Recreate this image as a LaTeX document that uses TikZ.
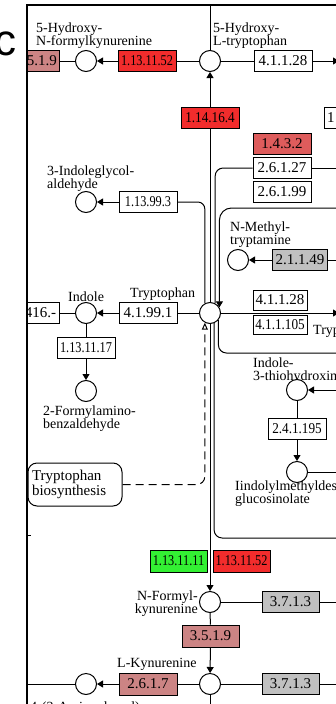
\documentclass[tikz,border=0pt]{standalone}
\usepackage{fontspec}
\setmainfont{Liberation Serif}
\newfontfamily\labfont{Liberation Sans}
\usepackage{graphicx}
\usetikzlibrary{arrows.meta,calc}
\definecolor{kred}{RGB}{242,44,44}
\definecolor{kredb}{RGB}{222,92,92}
\definecolor{kpink}{RGB}{204,132,132}
\definecolor{kgray}{RGB}{192,192,192}
\definecolor{kgreen}{RGB}{51,240,51}
\newcommand{\nar}[1]{\scalebox{0.82}[1]{#1}}
\newcommand{\narb}[1]{\scalebox{0.88}[1]{#1}}
\begin{document}
\begin{tikzpicture}[x=1pt,y=-1pt,
  cpd/.style={circle, draw, fill=white, minimum size=21pt, inner sep=0pt, line width=1pt},
  enz/.style={draw, minimum width=58pt, minimum height=21pt, inner sep=0pt, line width=1pt, font=\fontsize{15}{15}\selectfont},
  lbl/.style={inner sep=0pt, align=left, font=\fontsize{14}{13}\selectfont},
  con/.style={line width=1pt},
  arr/.style={con, -{Triangle[length=6pt,width=7pt]}},
  oarr/.style={line width=1pt, dash pattern=on 8pt off 5pt, -{Triangle[open,length=7pt,width=6pt]}},
  frame/.style={line width=1.6pt}]
\useasboundingbox (0,0) rectangle (336,704);
\node[anchor=base west, inner sep=0pt, font=\labfont\fontsize{44}{44}\selectfont] (panel) at (-5.8,55) {c};
\begin{scope}
\clip (27,5) rectangle (336,704);
% labels
\node[lbl, anchor=north west] (l1) at (36,23) {5-Hydroxy-\\N-formylkynurenine};
\node[lbl, anchor=north west] (l2) at (213,23) {5-Hydroxy-\\L-tryptophan};
\node[lbl, anchor=north west] (l3) at (47,166) {3-Indoleglycol-\\aldehyde};
\node[lbl, anchor=north west] (l4) at (230,222) {N-Methyl-\\tryptamine};
\node[lbl, anchor=north west] (l5) at (68,292) {Indole};
\node[lbl, anchor=north west] (l6) at (130,288) {Tryptophan};
\node[lbl, anchor=north west] (l7) at (43,406) {2-Formylamino-\\benzaldehyde};
\node[lbl, anchor=north west] (l8) at (253,358) {Indole-\\3-thiohydroximate};
\node[lbl, anchor=north west] (l9) at (235,480) {Iindolylmethyldesulfo-\\glucosinolate};
\node[lbl, anchor=north east, align=right] (l10) at (198,591) {N-Formyl-\\kynurenine};
\node[lbl, anchor=north west] (l11) at (117,658) {L-Kynurenine};
\node[lbl, anchor=north west] (l12) at (313,325) {Tryptamine};
\node[lbl, anchor=north west] (l13) at (30,702) {4-(2-Aminophenyl)-};
% top row
\node[enz, fill=kpink, text width=54pt, align=right] (e0) at (30,61) {3.5.1.9};
\node[cpd] (c1) at (86,61) {};
\node[enz, fill=kred] (e1) at (147,61) {\nar{1.13.11.52}};
\node[cpd] (c2) at (210,61) {};
\node[enz] (e2) at (283,61) {4.1.1.28};
\coordinate (r1) at (339,61);
\coordinate (top1) at (210,5);
\node[enz, fill=kred] (e3) at (210,118) {\narb{1.14.16.4}};
\node[enz, text width=24pt, align=left, minimum width=30pt] (e3b) at (339,118) {1};
\node[enz, fill=kredb] (e4) at (282,144) {1.4.3.2};
\node[enz] (e5) at (282,168) {2.6.1.27};
\node[enz] (e6) at (282,192) {2.6.1.99};
\coordinate (r3) at (340,168);
\node[cpd] (c3) at (86,202) {};
\node[enz] (e7) at (148,202) {\nar{1.13.99.3}};
\node[cpd] (c4) at (238,260) {};
\node[enz, fill=kgray, minimum width=55pt] (e8) at (300,260) {2.1.1.49};
\coordinate (r4) at (340,208);
\coordinate (r5) at (340,260);
% tryptophan row
\node[enz, text width=52pt, align=right] (e9) at (30,313) {416.-};
\node[cpd] (c5) at (86,313) {};
\node[enz] (e10) at (148,313) {4.1.99.1};
\node[cpd] (trp) at (210,313) {};
\node[enz, minimum width=54pt, minimum height=20pt] (e11) at (280,300) {4.1.1.28};
\node[enz, minimum width=54pt, minimum height=19pt] (e12) at (280,324.5) {\narb{4.1.1.105}};
\coordinate (r2) at (339,313);
\node[enz] (e13) at (86,347.5) {\nar{1.13.11.17}};
\node[cpd] (c6) at (86,391) {};
\node[draw, rounded corners=9pt, line width=1pt, minimum width=94pt, minimum height=43pt, text width=86pt, align=left, inner sep=0pt, font=\fontsize{15}{15}\selectfont] (bio) at (75,484.5) {Tryptophan\\biosynthesis};
\coordinate (r6) at (340,353);
\coordinate (r7) at (340,538);
% right side
\node[cpd] (c7) at (297,390) {};
\node[enz] (e14) at (297,428.5) {\narb{2.4.1.195}};
\node[cpd] (c8) at (297,472) {};
\coordinate (r8) at (340,390);
\coordinate (r9) at (340,472);
% bottom
\node[enz, fill=kgreen, minimum width=57pt, minimum height=22pt] (e15) at (178.5,561) {\nar{1.13.11.11}};
\node[enz, fill=kred, minimum width=57pt, minimum height=22pt] (e16) at (241.5,561) {\nar{1.13.11.52}};
\node[cpd] (c9) at (210,602) {};
\node[enz, fill=kgray, minimum width=57pt] (e17) at (290.5,602) {3.7.1.3};
\node[enz, fill=kpink, minimum width=57pt, minimum height=22pt] (e18) at (210.5,636) {3.5.1.9};
\node[cpd] (c10) at (210,684) {};
\node[enz, fill=kpink, minimum height=22pt] (e19) at (148,684) {2.6.1.7};
\node[cpd] (c11) at (86,684) {};
\node[enz, fill=kgray, minimum width=57pt] (e20) at (290.5,684) {3.7.1.3};
\coordinate (r10) at (340,602);
\coordinate (r11) at (340,684);
\coordinate (lft) at (26,684);
\coordinate (bot) at (210,706);
\coordinate (t1) at (27,535);
\coordinate (t2) at (31,535);
% connectors
\draw[con] (e0) -- (c1);
\draw[arr] (e1) -- (c1);
\draw[con] (e1) -- (c2);
\draw[con] (top1) -- (c2);
\draw[con] (c2) -- (e2);
\draw[arr] (e2) -- (r1);
\draw[arr] (e3) -- (c2);
\draw[con] (e3) -- (trp);
\draw[con] (e5) -- (r3);
\draw[con, rounded corners=8pt] (e5.west) -- (e5.west -| trp.62) -- (trp.62);
\draw[arr] (e7) -- (c3);
\draw[con, rounded corners=7pt] (e7.east) -- (e7.east -| trp.118) -- (trp.118);
\draw[arr, rounded corners=12pt] (r4) -- (r4 -| trp.31) -- (trp.31);
\draw[arr] (e8) -- (c4);
\draw[con] (e8) -- (r5);
\draw[con] (e9) -- (c5);
\draw[arr] (e10) -- (c5);
\draw[con] (e10) -- (trp);
\draw[arr] (trp) -- (r2);
\draw[con] (c5) -- (e13);
\draw[arr] (e13) -- (c6);
\draw[oarr, rounded corners=8pt] (bio.east) -- (bio.east -| trp.-118) -- (trp.-118);
\draw[con, rounded corners=8pt] (trp.-40) -- (trp.-40 |- r6) -- (r6);
\draw[con, rounded corners=8pt] (trp.-68) -- (trp.-68 |- r7) -- (r7);
\draw[arr] (trp) -- (c9);
\draw[arr] (r8) -- (c7);
\draw[con] (c7) -- (e14);
\draw[arr] (e14) -- (c8);
\draw[con] (c8) -- (r9);
\draw[con] (c9) -- (e17);
\draw[con] (e17) -- (r10);
\draw[con] (c9) -- (e18);
\draw[arr] (e18) -- (c10);
\draw[con] (c10) -- (e19);
\draw[arr] (e19) -- (c11);
\draw[con] (c11) -- (lft);
\draw[con] (c10) -- (e20);
\draw[con] (e20) -- (r11);
\draw[con] (c10) -- (bot);
\draw[con] (t1) -- (t2);
\end{scope}
\coordinate (f1) at (27,705);
\coordinate (f2) at (27,5);
\coordinate (f3) at (337,5);
\draw[frame] (f1) -- (f2) -- (f3);
\end{tikzpicture}
\end{document}
